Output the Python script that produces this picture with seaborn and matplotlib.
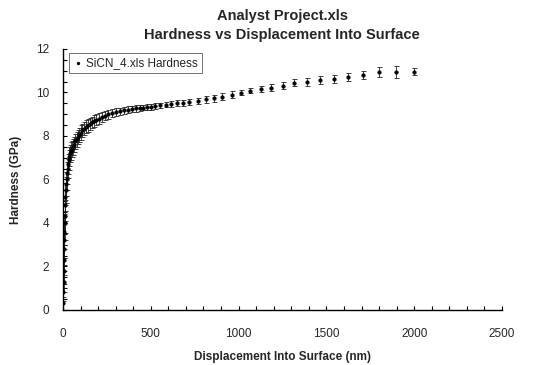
import numpy as np
import pandas as pd
import matplotlib
matplotlib.use("Agg")
import matplotlib.pyplot as plt
from matplotlib.ticker import MultipleLocator
import seaborn as sns

# ---- data ----
displacement_nm = [1, 2, 3, 4, 5, 6, 7, 8, 9, 10, 12, 14, 16, 18, 20, 23, 26, 29,
                   33, 37, 41, 46, 51, 57, 63, 70, 77, 85, 93, 102, 111, 121, 131,
                   142, 153, 165, 177, 190, 204, 220, 239, 256, 280, 303, 327, 350,
                   372, 394, 415, 436, 457, 479, 500, 524, 551, 584, 617, 651, 684,
                   718, 768, 815, 860, 908, 960, 1012, 1063, 1125, 1186, 1252, 1318,
                   1390, 1464, 1542, 1623, 1709, 1800, 1894, 1998]
hardness_gpa = [0.3, 0.8, 1.3, 1.8, 2.3, 2.8, 3.2, 3.6, 4.0, 4.3, 4.8, 5.2, 5.5, 5.8,
                6.0, 6.3, 6.5, 6.7, 6.9, 7.05, 7.2, 7.3, 7.4, 7.5, 7.6, 7.75, 7.85,
                7.95, 8.05, 8.15, 8.25, 8.33, 8.42, 8.5, 8.56, 8.62, 8.68, 8.74, 8.8,
                8.86, 8.93, 8.99, 9.05, 9.1, 9.14, 9.18, 9.21, 9.24, 9.26, 9.28,
                9.3, 9.32, 9.34, 9.37, 9.4, 9.44, 9.47, 9.5, 9.53, 9.57, 9.62,
                9.68, 9.73, 9.8, 9.9, 9.98, 10.08, 10.15, 10.22, 10.3, 10.45, 10.48,
                10.57, 10.63, 10.72, 10.79, 10.96, 10.93, 10.96]
hardness_err = [0.3, 0.4, 0.5, 0.6, 0.7, 0.75, 0.8, 0.8, 0.8, 0.75, 0.7, 0.65, 0.6,
                0.55, 0.5, 0.5, 0.45, 0.45, 0.45, 0.42, 0.4, 0.4, 0.38, 0.38, 0.36,
                0.35, 0.35, 0.34, 0.33, 0.33, 0.32, 0.31, 0.3, 0.3, 0.28, 0.27, 0.26,
                0.25, 0.24, 0.22, 0.2, 0.19, 0.18, 0.17, 0.16, 0.15, 0.15, 0.14, 0.14,
                0.13, 0.13, 0.13, 0.13, 0.13, 0.13, 0.13, 0.13, 0.13, 0.14, 0.14,
                0.14, 0.15, 0.15, 0.15, 0.15, 0.12, 0.12, 0.14, 0.15, 0.16, 0.17,
                0.17, 0.18, 0.18, 0.18, 0.19, 0.23, 0.27, 0.15]
series_label = "SiCN_4.xls Hardness"
title_lines = ["Analyst Project.xls", "Hardness vs Displacement Into Surface"]
x_label = "Displacement Into Surface (nm)"
y_label = "Hardness (GPa)"

df = pd.DataFrame({"disp": displacement_nm, "hard": hardness_gpa, "err": hardness_err})

sns.set_style("ticks")
plt.rcParams["font.family"] = ["Liberation Sans", "DejaVu Sans"]

fig = plt.figure(figsize=(5.43, 3.65), dpi=100)
ax = fig.add_axes([0.116, 0.151, 0.8085, 0.715])

ax.errorbar(df["disp"], df["hard"], yerr=df["err"], fmt="none", ecolor="#222222",
            elinewidth=0.6, capsize=1.8, capthick=0.6, zorder=2)
sns.scatterplot(data=df, x="disp", y="hard", ax=ax, color="black", s=7,
                marker="o", edgecolor="black", linewidth=0.3, zorder=3,
                label=series_label)

ax.set_xlim(0, 2500)
ax.set_ylim(0, 12)
ax.xaxis.set_major_locator(MultipleLocator(500))
ax.xaxis.set_minor_locator(MultipleLocator(100))
ax.yaxis.set_major_locator(MultipleLocator(2))
ax.yaxis.set_minor_locator(MultipleLocator(0.5))
ax.tick_params(axis="both", which="both", direction="in", length=3, width=0.8,
               color="black", labelsize=8.5)
ax.tick_params(axis="x", which="both", pad=13)
ax.tick_params(axis="y", which="both", pad=10)
for s in ["top", "right"]:
    ax.spines[s].set_visible(False)
for s in ["left", "bottom"]:
    ax.spines[s].set_linewidth(1.0)
    ax.spines[s].set_color("black")

ax.set_xlabel(x_label, fontsize=8.5, fontweight="bold", labelpad=8)
ax.set_ylabel(y_label, fontsize=8.5, fontweight="bold", labelpad=10)

fig.text(0.52, 0.955, title_lines[0], ha="center", va="center",
         fontsize=10.5, fontweight="bold")
fig.text(0.52, 0.905, title_lines[1], ha="center", va="center",
         fontsize=10.5, fontweight="bold")

leg = ax.legend(loc="upper left", bbox_to_anchor=(0.014, 0.985), frameon=True,
                fancybox=False, fontsize=8.5, handletextpad=0.3,
                borderpad=0.35, markerscale=0.8, handlelength=0.8,
                borderaxespad=0.0)
leg.get_frame().set_edgecolor("#333333")
leg.get_frame().set_linewidth(0.6)

fig.savefig("out.png", dpi=100)
